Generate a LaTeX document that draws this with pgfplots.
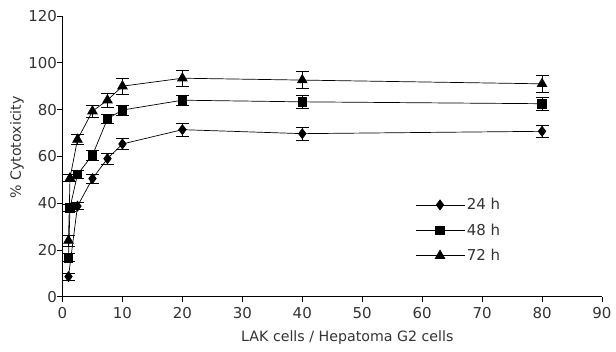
\documentclass[border=0pt]{standalone}
\usepackage{fontspec}
\setmainfont{DejaVu Sans}
\usepackage{pgfplots}
\pgfplotsset{compat=1.18}
\definecolor{txt}{HTML}{333333}
\begin{document}
\begin{tikzpicture}
\begin{axis}[
  scale only axis, width=539.5pt, height=280.7pt,
  xmin=0, xmax=90, ymin=0, ymax=120,
  axis lines=left, axis line style={-, black, line width=0.6pt},
  xtick={0,10,...,90}, ytick={0,20,...,120},
  tick align=outside, major tick length=5pt, tick style={black, line width=0.6pt},
  /pgf/number format/assume math mode=true,
  xticklabel style={font=\fontsize{15}{17}\selectfont, text=txt, yshift=-2pt},
  yticklabel style={font=\fontsize{15}{17}\selectfont, text=txt, xshift=3pt},
  label style={font=\fontsize{14.2}{16}\selectfont, text=txt},
  xlabel={LAK cells / Hepatoma G2 cells},
  ylabel={\% Cytotoxicity},
  xlabel style={at={(axis description cs:0.528,0)}, anchor=center, yshift=-41.3pt},
  ylabel style={at={(axis description cs:-0.0843,0.5315)}, anchor=center},
  legend image code/.code={\draw[mark repeat=2,mark phase=2] plot coordinates {(0pt,0pt) (24.5pt,0pt) (49pt,0pt)};},
  legend style={draw=none, fill=none, at={(axis cs:58.3,43.8)}, anchor=north west, font=\fontsize{15}{17}\selectfont, text=txt, row sep=8.5pt},
  legend cell align=left,
  every axis plot/.append style={black, line width=0.7pt},
  error bars/error bar style={black, line width=0.7pt},
  error bars/error mark options={rotate=90, mark size=6.5pt, line width=0.7pt},
]
\addplot+[black, mark=diamond*, mark size=5pt, mark options={fill=black}, error bars/.cd, y dir=both, y explicit]
coordinates {
(1,8.6) +- (0,1.5)
(2.5,38.7) +- (0,1.5)
(5,50.5) +- (0,2)
(7.5,59) +- (0,2.3)
(10,65.3) +- (0,2.5)
(20,71.4) +- (0,2.8)
(40,69.7) +- (0,2.8)
(80,70.7) +- (0,2.6)
};
\addlegendentry{24 h}
\addplot+[black, mark=square*, mark size=4.3pt, mark options={fill=black}, error bars/.cd, y dir=both, y explicit]
coordinates {
(1,16.7) +- (0,1.8)
(1.25,38) +- (0,1.5)
(2.5,52.3) +- (0,1.5)
(5,60.5) +- (0,2)
(7.5,76) +- (0,1.8)
(10,79.8) +- (0,2.2)
(20,84) +- (0,2.2)
(40,83.3) +- (0,2.6)
(80,82.5) +- (0,2.8)
};
\addlegendentry{48 h}
\addplot+[black, mark=triangle*, mark size=5.5pt, mark options={fill=black}, error bars/.cd, y dir=both, y explicit]
coordinates {
(1,24) +- (0,2.3)
(1.25,50.7) +- (0,1.5)
(2.5,67.2) +- (0,2.1)
(5,79.3) +- (0,2.5)
(7.5,84) +- (0,3)
(10,90) +- (0,3.3)
(20,93.4) +- (0,3.5)
(40,92.6) +- (0,3.6)
(80,91) +- (0,3.6)
};
\addlegendentry{72 h}
\end{axis}
\path ([shift={(-62.5pt,-55.3pt)}]current axis.south west) rectangle ([shift={(14pt,16pt)}]current axis.north east);
\end{tikzpicture}
\end{document}
